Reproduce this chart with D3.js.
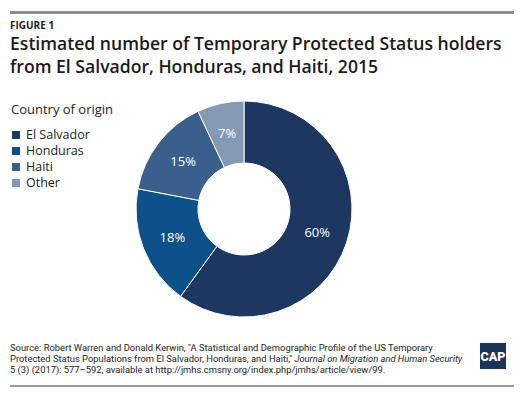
<!DOCTYPE html>
<html>
<head>
<meta charset="utf-8">
<script src="https://cdn.jsdelivr.net/npm/d3@7"></script>
<style>
  body { margin: 0; background: #fff; }
  svg { display: block; font-family: "Open Sans", sans-serif; }
</style>
</head>
<body>
<svg></svg>
<script>
// chart data
var countries = ["El Salvador", "Honduras", "Haiti", "Other"]
var shares = [60, 18, 15, 7]
var colors = ["#1d3761", "#0c5189", "#3a5f8c", "#8599b3"]

var width = 524
var height = 398
var svg = d3.select("svg")
  .attr("width", width)
  .attr("height", height)

// top and bottom rules
svg.append("rect").attr("x", 10).attr("y", 11).attr("width", 504).attr("height", 3).attr("fill", "#8c8c8c")
svg.append("rect").attr("x", 10).attr("y", 385).attr("width", 504).attr("height", 2).attr("fill", "#9a9a9a")

// header
svg.append("text")
  .attr("x", 10).attr("y", 29)
  .style("font-size", "10px").style("font-weight", 700)
  .attr("fill", "#222")
  .text("FIGURE 1")

var titleLines = ["Estimated number of Temporary Protected Status holders",
  "from El Salvador, Honduras, and Haiti, 2015"]
svg.append("g").selectAll("text")
  .data(titleLines)
  .enter()
  .append("text")
  .attr("x", 10)
  .attr("y", (d, i) => 50 + i * 23)
  .style("font-size", "17.6px").style("font-weight", 600)
  .attr("fill", "#1a1a1a")
  .text(d => d)

// legend
svg.append("text")
  .attr("x", 11).attr("y", 114)
  .style("font-size", "13px")
  .attr("fill", "#222")
  .text("Country of origin")

var legend = svg.append("g").selectAll("g")
  .data(countries)
  .enter()
  .append("g")
  .attr("transform", (d, i) => "translate(12," + (139 + i * 16) + ")")
legend.append("rect")
  .attr("x", 0).attr("y", -8)
  .attr("width", 8).attr("height", 8)
  .attr("fill", (d, i) => colors[i])
legend.append("text")
  .attr("x", 14).attr("y", 0)
  .style("font-size", "12.5px")
  .attr("fill", "#222")
  .text(d => d)

// donut
var cx = 244, cy = 209
var outerR = 108, innerR = 46
var pie = d3.pie().sort(null).value(d => d)
var arc = d3.arc().innerRadius(innerR).outerRadius(outerR)
var labelArc = d3.arc().innerRadius(77).outerRadius(77)

var g = svg.append("g").attr("transform", "translate(" + cx + "," + cy + ")")
g.selectAll("path")
  .data(pie(shares))
  .enter()
  .append("path")
  .attr("d", arc)
  .attr("fill", (d, i) => colors[i])
  .attr("stroke", "#fff")
  .attr("stroke-width", 1)
g.selectAll("text")
  .data(pie(shares))
  .enter()
  .append("text")
  .attr("transform", d => "translate(" + labelArc.centroid(d) + ")")
  .attr("text-anchor", "middle")
  .attr("dy", "0.35em")
  .style("font-size", "13px")
  .attr("fill", "#fff")
  .text(d => d.data + "%")

// source note, one text per line
var noteFont = "Roboto, sans-serif"
var noteSize = "9.4px"
var note = (y, s) => svg.append("text")
  .attr("x", 10).attr("y", y)
  .style("font-family", noteFont)
  .style("font-size", noteSize)
  .attr("fill", "#222")
  .text(s)
note(350.5, "Source: Robert Warren and Donald Kerwin, \"A Statistical and Demographic Profile of the US Temporary")
var l2 = note(361.7, "Protected Status Populations from El Salvador, Honduras, and Haiti,\"")
svg.append("text")
  .attr("x", 10 + l2.node().getComputedTextLength() + 2).attr("y", 361.7)
  .style("font-family", noteFont)
  .style("font-size", noteSize).style("font-style", "italic")
  .attr("fill", "#222")
  .text("Journal on Migration and Human Security")
note(372.9, "5 (3) (2017): 577\u2013592, available at http://jmhs.cmsny.org/index.php/jmhs/article/view/99.")

// logo
svg.append("rect")
  .attr("x", 480).attr("y", 343).attr("width", 26).attr("height", 26)
  .attr("fill", "#1b3556")
svg.append("text")
  .attr("x", 493).attr("y", 361)
  .attr("text-anchor", "middle")
  .style("font-size", "12.5px").style("font-weight", 900)
  .style("font-family", "Roboto, sans-serif")
  .attr("fill", "#fff")
  .text("CAP")
</script>
</body>
</html>
